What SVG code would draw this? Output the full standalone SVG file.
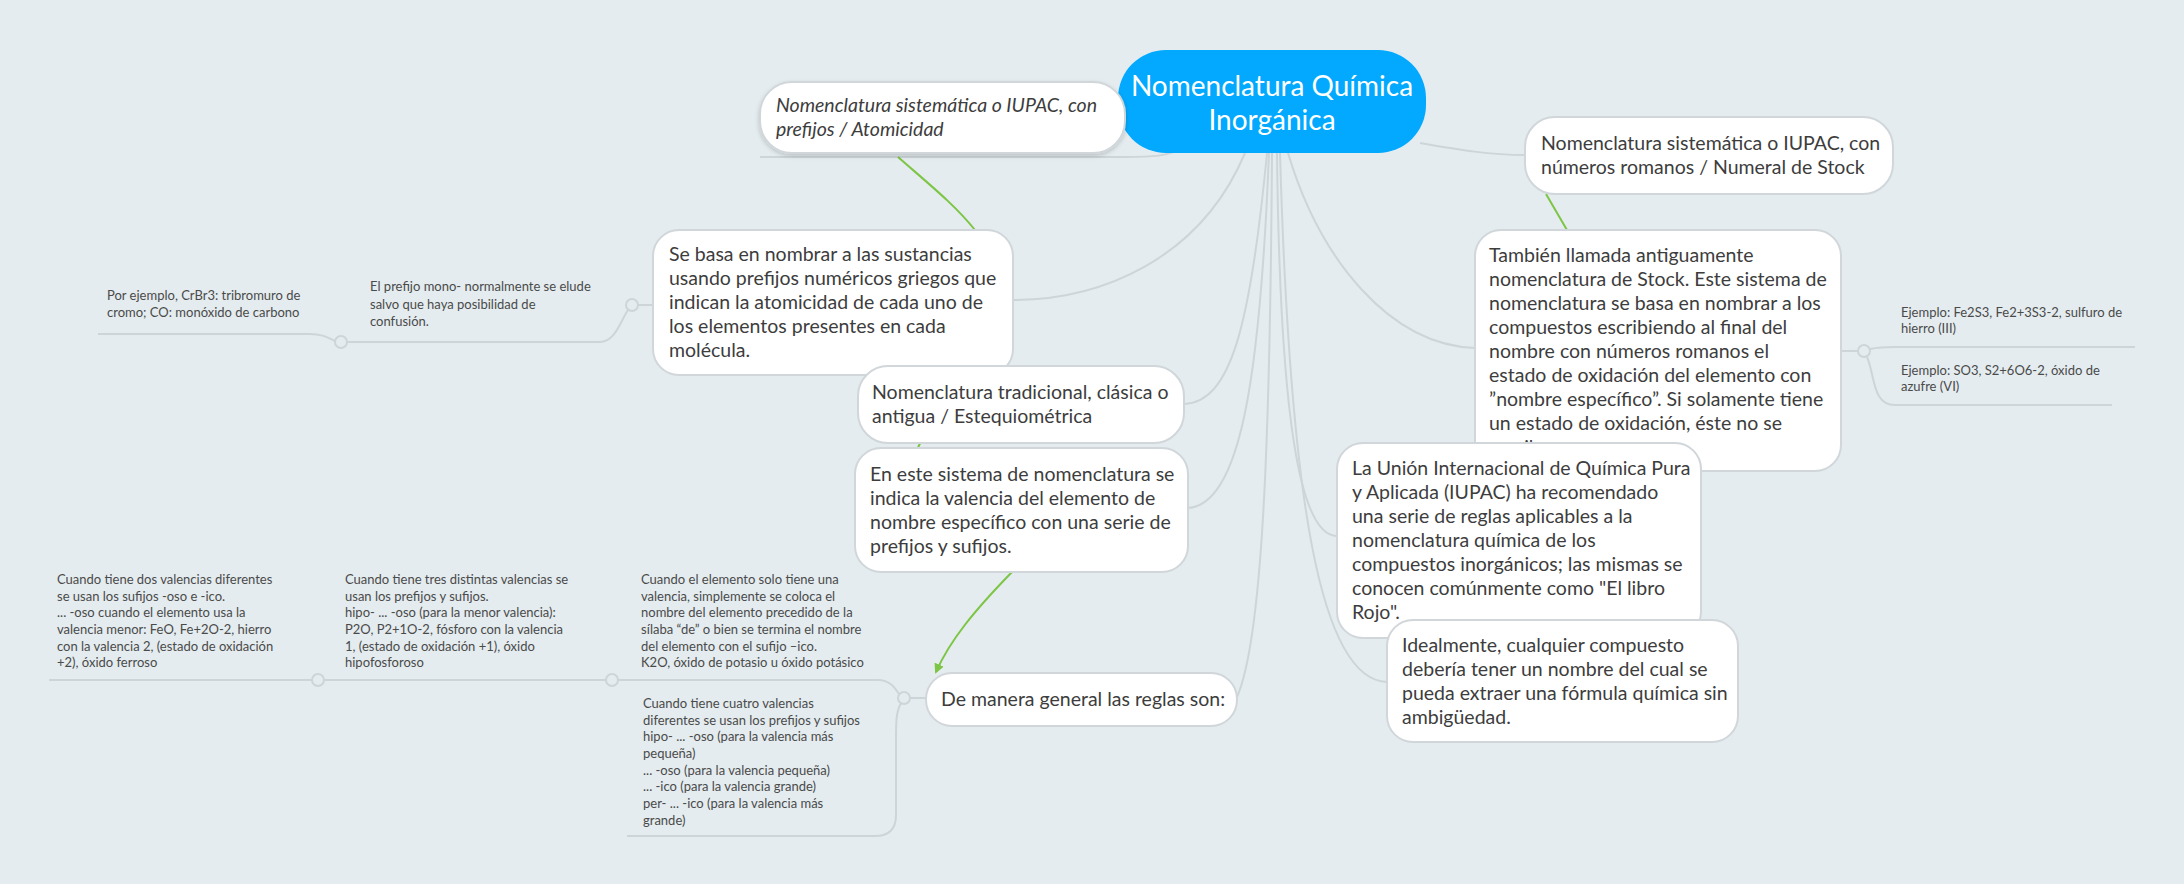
<svg xmlns="http://www.w3.org/2000/svg" width="2184" height="884" viewBox="0 0 2184 884">
<defs>
<style>
.bg{fill:#e4ecef}
.box{fill:#ffffff;stroke:#d0d6d9;stroke-width:2}
.t{font-family:Lato,"Liberation Sans",sans-serif;font-size:19.5px;fill:#3d3d3d}
.ti{font-family:Lato,"Liberation Sans",sans-serif;font-size:19.5px;font-style:italic;fill:#3d3d3d}
.s{font-family:Lato,"Liberation Sans",sans-serif;font-size:13px;fill:#4a4a4a}
.c{fill:none;stroke:#cdd5d9;stroke-width:2}
.g{fill:none;stroke:#7dc544;stroke-width:2}
.dot{fill:#e4ecef;stroke:#cdd5d9;stroke-width:2}
.root{font-family:Lato,"Liberation Sans",sans-serif;font-size:28px;font-weight:400;fill:#ffffff}
</style>
<filter id="sh" x="-10%" y="-20%" width="120%" height="150%">
<feDropShadow dx="0" dy="2" stdDeviation="2" flood-color="#000" flood-opacity="0.18"/>
</filter>
<marker id="ah" markerWidth="10" markerHeight="10" refX="8" refY="5" orient="auto" markerUnits="userSpaceOnUse">
<path d="M0,0 L10,5 L0,10 z" fill="#7dc544"/>
</marker>
</defs>
<rect class="bg" x="0" y="0" width="2184" height="884"/>

<g id="connectors">
<path class="c" d="M1185 146 C1170 157 1150 157 1125 157 L760 157"/>
<path class="c" d="M1245 153 C1200 260 1100 300 1013 300"/>
<path class="c" d="M1267 153 C1250 330 1230 402 1184 404"/>
<path class="c" d="M1269 153 C1260 380 1240 505 1188 508"/>
<path class="c" d="M1272 153 C1270 450 1262 640 1237 697"/>
<path class="c" d="M1277 153 C1280 420 1300 536 1337 536"/>
<path class="c" d="M1280 153 C1290 500 1320 680 1387 682"/>
<path class="c" d="M1288 153 C1320 260 1390 345 1475 348"/>
<path class="c" d="M1420 143 C1460 150 1490 155 1525 155"/>
<path class="g" d="M898 157 C930 185 955 205 975 230"/>
<path class="g" d="M1546 194 C1553 206 1560 218 1567 230"/>
<path class="g" d="M921 441 L917 450"/>
<path class="g" d="M1012 572 C975 610 950 640 936 672" marker-end="url(#ah)"/>
<path class="c" d="M653 305 L638 305"/>
<path class="c" d="M628 310 C620 322 615 342 600 342 L347 342"/>
<path class="c" d="M335 341 C325 336 320 334 310 334 L98 334"/>
<path class="c" d="M1841 351 L1858 351"/>
<path class="c" d="M1870 349 C1880 347 1885 347 1895 347 L2135 347"/>
<path class="c" d="M1867 357 C1875 375 1872 405 1895 405 L2112 405"/>
<path class="c" d="M926 698 L910 698"/>
<path class="c" d="M899 694 C895 688 890 680 878 680 L618 680"/>
<path class="c" d="M606 680 L324 680"/>
<path class="c" d="M312 680 L49 680"/>
<path class="c" d="M901 703 C896 712 896 722 896 740 L896 815 C896 830 888 836 875 836 L627 836"/>
<circle class="dot" cx="632" cy="305" r="6"/>
<circle class="dot" cx="341" cy="342" r="6"/>
<circle class="dot" cx="1864" cy="351" r="6"/>
<circle class="dot" cx="904" cy="698" r="6"/>
<circle class="dot" cx="612" cy="680" r="6"/>
<circle class="dot" cx="318" cy="680" r="6"/>
</g>

<g id="root">
<rect x="1118" y="50" width="308" height="103" rx="48" fill="#02a9fe"/>
<text class="root" x="1272" y="96" text-anchor="middle">Nomenclatura Química</text>
<text class="root" x="1272" y="130" text-anchor="middle">Inorgánica</text>
</g>

<g id="n-prefijos">
<rect class="box" x="760" y="82" width="365" height="71" rx="32" filter="url(#sh)"/>
<text class="ti" x="776" y="112">Nomenclatura sistemática o IUPAC, con</text>
<text class="ti" x="776" y="136">prefijos / Atomicidad</text>
</g>

<g id="n-basa">
<rect class="box" x="653" y="230" width="360" height="145" rx="26"/>
<text class="t" x="669" y="261">Se basa en nombrar a las sustancias</text>
<text class="t" x="669" y="285">usando prefijos numéricos griegos que</text>
<text class="t" x="669" y="309">indican la atomicidad de cada uno de</text>
<text class="t" x="669" y="333">los elementos presentes en cada</text>
<text class="t" x="669" y="357">molécula.</text>
</g>

<g id="n-mono">
<text class="s" x="370" y="291">El prefijo mono- normalmente se elude</text>
<text class="s" x="370" y="308.5">salvo que haya posibilidad de</text>
<text class="s" x="370" y="326">confusión.</text>
</g>
<g id="n-ejemplo-cr">
<text class="s" x="107" y="300">Por ejemplo, CrBr3: tribromuro de</text>
<text class="s" x="107" y="317">cromo; CO: monóxido de carbono</text>
</g>

<g id="n-romanos">
<rect class="box" x="1525" y="117" width="368" height="77" rx="30"/>
<text class="t" x="1541" y="150">Nomenclatura sistemática o IUPAC, con</text>
<text class="t" x="1541" y="174">números romanos / Numeral de Stock</text>
</g>

<g id="n-stock">
<rect class="box" x="1475" y="230" width="366" height="241" rx="26"/>
<text class="t" x="1489" y="262">También llamada antiguamente</text>
<text class="t" x="1489" y="286">nomenclatura de Stock. Este sistema de</text>
<text class="t" x="1489" y="310">nomenclatura se basa en nombrar a los</text>
<text class="t" x="1489" y="334">compuestos escribiendo al final del</text>
<text class="t" x="1489" y="358">nombre con números romanos el</text>
<text class="t" x="1489" y="382">estado de oxidación del elemento con</text>
<text class="t" x="1489" y="406">”nombre específico”. Si solamente tiene</text>
<text class="t" x="1489" y="430">un estado de oxidación, éste no se</text>
<text class="t" x="1489" y="454">escribe.</text>
</g>

<g id="n-fe">
<text class="s" x="1901" y="317">Ejemplo: Fe2S3, Fe2+3S3-2, sulfuro de</text>
<text class="s" x="1901" y="333">hierro (III)</text>
</g>
<g id="n-so3">
<text class="s" x="1901" y="375">Ejemplo: SO3, S2+6O6-2, óxido de</text>
<text class="s" x="1901" y="391">azufre (VI)</text>
</g>

<g id="n-union">
<rect class="box" x="1337" y="443" width="364" height="195" rx="26"/>
<text class="t" x="1352" y="475">La Unión Internacional de Química Pura</text>
<text class="t" x="1352" y="499">y Aplicada (IUPAC) ha recomendado</text>
<text class="t" x="1352" y="523">una serie de reglas aplicables a la</text>
<text class="t" x="1352" y="547">nomenclatura química de los</text>
<text class="t" x="1352" y="571">compuestos inorgánicos; las mismas se</text>
<text class="t" x="1352" y="595">conocen comúnmente como "El libro</text>
<text class="t" x="1352" y="619">Rojo".</text>
</g>

<g id="n-ideal">
<rect class="box" x="1387" y="620" width="351" height="122" rx="26"/>
<text class="t" x="1402" y="652">Idealmente, cualquier compuesto</text>
<text class="t" x="1402" y="676">debería tener un nombre del cual se</text>
<text class="t" x="1402" y="700">pueda extraer una fórmula química sin</text>
<text class="t" x="1402" y="724">ambigüedad.</text>
</g>

<g id="n-tradicional">
<rect class="box" x="858" y="366" width="326" height="77" rx="30"/>
<text class="t" x="872" y="399">Nomenclatura tradicional, clásica o</text>
<text class="t" x="872" y="423">antigua / Estequiométrica</text>
</g>

<g id="n-sistema">
<rect class="box" x="855" y="448" width="333" height="124" rx="26"/>
<text class="t" x="870" y="481">En este sistema de nomenclatura se</text>
<text class="t" x="870" y="505">indica la valencia del elemento de</text>
<text class="t" x="870" y="529">nombre específico con una serie de</text>
<text class="t" x="870" y="553">prefijos y sufijos.</text>
</g>

<g id="n-reglas">
<rect class="box" x="926" y="673" width="311" height="53" rx="26"/>
<text class="t" x="941" y="706">De manera general las reglas son:</text>
</g>

<g id="n-dos">
<text class="s" x="57" y="584">Cuando tiene dos valencias diferentes</text>
<text class="s" x="57" y="600.5">se usan los sufijos -oso e -ico.</text>
<text class="s" x="57" y="617">... -oso cuando el elemento usa la</text>
<text class="s" x="57" y="634">valencia menor: FeO, Fe+2O-2, hierro</text>
<text class="s" x="57" y="650.5">con la valencia 2, (estado de oxidación</text>
<text class="s" x="57" y="667">+2), óxido ferroso</text>
</g>
<g id="n-tres">
<text class="s" x="345" y="584">Cuando tiene tres distintas valencias se</text>
<text class="s" x="345" y="600.5">usan los prefijos y sufijos.</text>
<text class="s" x="345" y="617">hipo- ... -oso (para la menor valencia):</text>
<text class="s" x="345" y="634">P2O, P2+1O-2, fósforo con la valencia</text>
<text class="s" x="345" y="650.5">1, (estado de oxidación +1), óxido</text>
<text class="s" x="345" y="667">hipofosforoso</text>
</g>
<g id="n-una">
<text class="s" x="641" y="584">Cuando el elemento solo tiene una</text>
<text class="s" x="641" y="600.5">valencia, simplemente se coloca el</text>
<text class="s" x="641" y="617">nombre del elemento precedido de la</text>
<text class="s" x="641" y="634">sílaba “de” o bien se termina el nombre</text>
<text class="s" x="641" y="650.5">del elemento con el sufijo –ico.</text>
<text class="s" x="641" y="667">K2O, óxido de potasio u óxido potásico</text>
</g>
<g id="n-cuatro">
<text class="s" x="643" y="708">Cuando tiene cuatro valencias</text>
<text class="s" x="643" y="724.5">diferentes se usan los prefijos y sufijos</text>
<text class="s" x="643" y="741">hipo- ... -oso (para la valencia más</text>
<text class="s" x="643" y="758">pequeña)</text>
<text class="s" x="643" y="774.5">... -oso (para la valencia pequeña)</text>
<text class="s" x="643" y="791">... -ico (para la valencia grande)</text>
<text class="s" x="643" y="808">per- ... -ico (para la valencia más</text>
<text class="s" x="643" y="824.5">grande)</text>
</g>
</svg>
